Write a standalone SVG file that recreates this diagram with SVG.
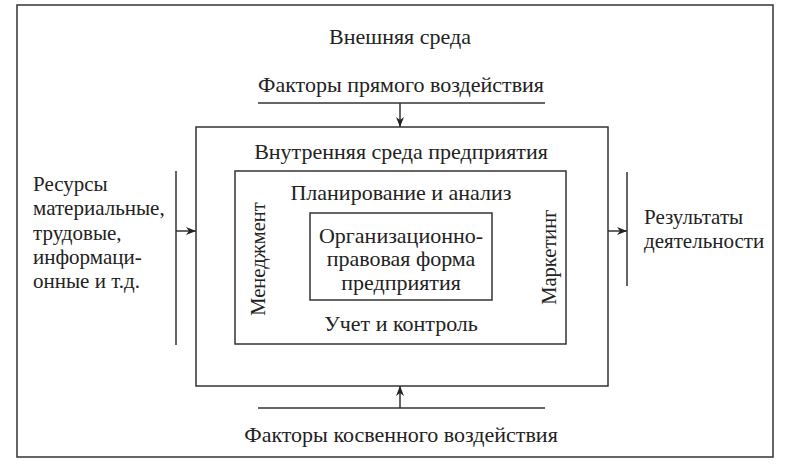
<svg xmlns="http://www.w3.org/2000/svg" width="790" height="467" viewBox="0 0 790 467">
<defs>
<style>
.t{font-family:"Liberation Serif","DejaVu Serif",serif;font-size:22px;fill:#222}
.s{font-size:21px}
.r{font-size:20.5px}
.c{text-anchor:middle}
.b{fill:none;stroke:#333;stroke-width:1.5}
.l{stroke:#333;stroke-width:1.5;fill:none}
</style>
<marker id="ah" viewBox="0 0 10 10" refX="10" refY="5" markerWidth="11" markerHeight="10" markerUnits="userSpaceOnUse" orient="auto">
<path d="M0,1 L10,5 L0,9 L3,5 z" fill="#222"/>
</marker>
</defs>
<rect width="790" height="467" fill="#fff"/>
<g id="external">
<rect class="b" x="17" y="5" width="756" height="452"/>
<text class="t c" x="400" y="44">Внешняя среда</text>
</g>
<g id="direct">
<text class="t c" x="401" y="92">Факторы прямого воздействия</text>
<line class="l" x1="258" y1="103" x2="545" y2="103"/>
</g>
<g id="indirect">
<line class="l" x1="258" y1="408" x2="545" y2="408"/>
<text class="t c" x="401" y="442">Факторы косвенного воздействия</text>
</g>
<g id="resources">
<line class="l" x1="176" y1="171" x2="176" y2="345"/>
<text class="t s" x="33" y="191">Ресурсы</text>
<text class="t s" x="33" y="215">материальные,</text>
<text class="t s" x="33" y="240">трудовые,</text>
<text class="t s" x="33" y="264">информаци-</text>
<text class="t s" x="33" y="288">онные и т.д.</text>
</g>
<g id="results">
<line class="l" x1="627" y1="172" x2="627" y2="286"/>
<text class="t s" x="644" y="224">Результаты</text>
<text class="t s" x="644" y="248">деятельности</text>
</g>
<g id="internal">
<rect class="b" x="196" y="127" width="412" height="259"/>
<text class="t c" x="401" y="159">Внутренняя среда предприятия</text>
</g>
<g id="functions">
<rect class="b" x="235" y="171" width="331" height="173"/>
<text class="t c" x="401" y="200">Планирование и анализ</text>
<text class="t c" x="401" y="331">Учет и контроль</text>
<text class="t r c" transform="translate(265,259) rotate(-90)">Менеджмент</text>
<text class="t r c" transform="translate(556,257) rotate(-90)">Маркетинг</text>
</g>
<g id="form">
<rect class="b" x="310" y="213" width="182" height="87"/>
<text class="t c" x="401" y="243">Организационно-</text>
<text class="t c" x="401" y="266">правовая форма</text>
<text class="t c" x="401" y="290">предприятия</text>
</g>
<g id="connectors">
<line class="l" x1="400" y1="103" x2="400" y2="127" marker-end="url(#ah)"/>
<line class="l" x1="400" y1="408" x2="400" y2="386" marker-end="url(#ah)"/>
<line class="l" x1="176" y1="231" x2="196" y2="231" marker-end="url(#ah)"/>
<line class="l" x1="608" y1="231" x2="627" y2="231" marker-end="url(#ah)"/>
</g>
</svg>
